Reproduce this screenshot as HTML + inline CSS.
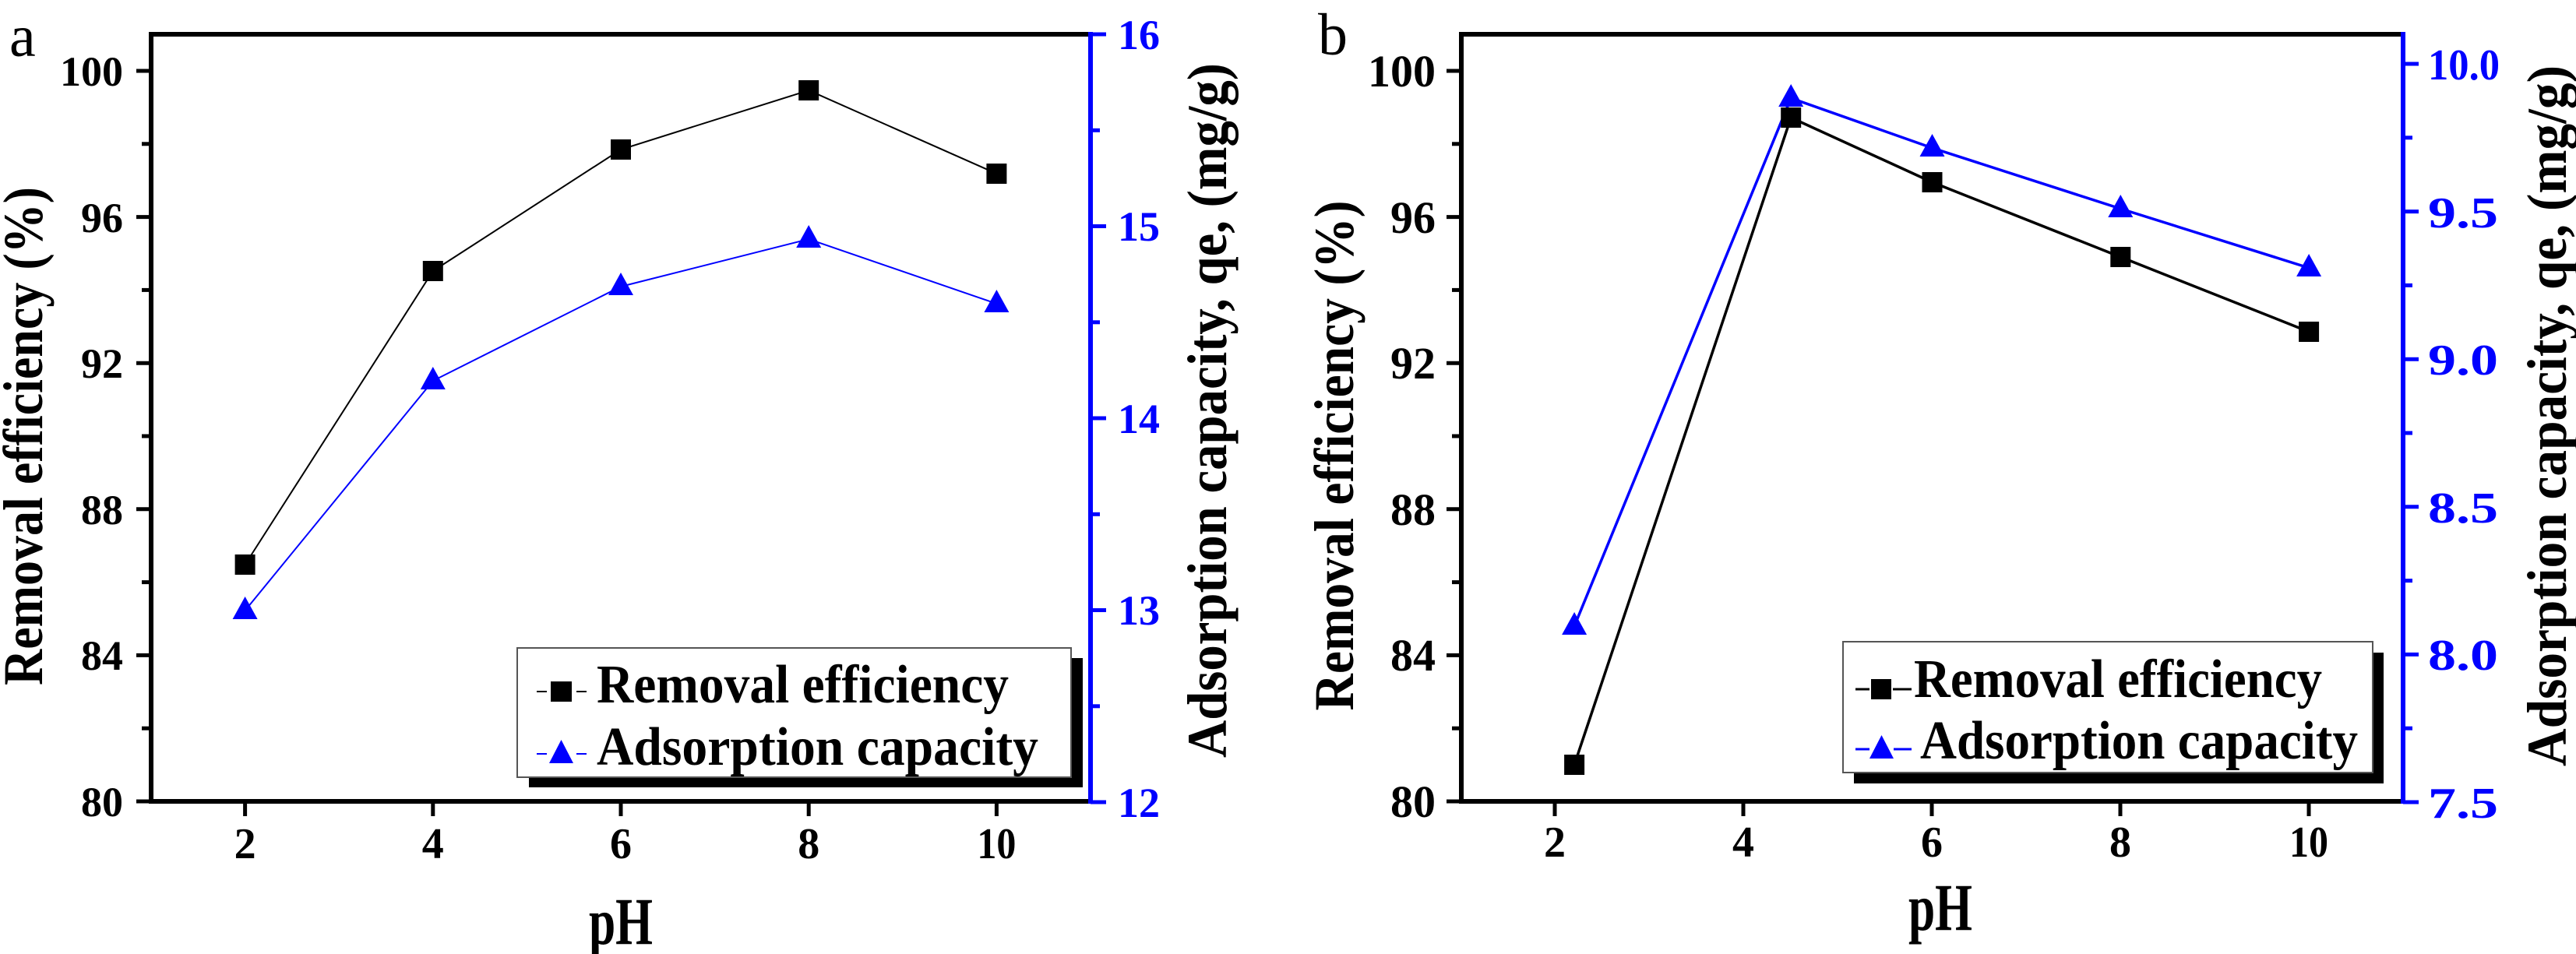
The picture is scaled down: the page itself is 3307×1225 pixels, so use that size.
<!DOCTYPE html>
<html><head><meta charset="utf-8"><style>
html,body{margin:0;padding:0;background:#fff;}
svg{display:block;}
text{font-family:"Liberation Serif",serif;font-weight:bold;}
</style></head><body>
<svg width="3307" height="1225" viewBox="0 0 3307 1225" xmlns="http://www.w3.org/2000/svg">
<rect width="3307" height="1225" fill="#fff"/>

<!-- ============ PANEL A ============ -->
<text x="12" y="72" font-size="76" style="font-weight:normal">a</text>
<polyline points="314.6,725 555.8,348 797,192 1038.2,116 1279.4,223" fill="none" stroke="#000" stroke-width="2"/>
<polyline points="314.6,784 555.8,489 797,368 1038.2,307 1279.4,390" fill="none" stroke="#0000ff" stroke-width="2"/>
<g fill="#000">
<rect x="301.6" y="712" width="26" height="26"/>
<rect x="542.8" y="335" width="26" height="26"/>
<rect x="784" y="179" width="26" height="26"/>
<rect x="1025.2" y="103" width="26" height="26"/>
<rect x="1266.4" y="210" width="26" height="26"/>
</g>
<g fill="#0000ff">
<path d="M298.6,795 L330.6,795 L314.6,766 Z"/>
<path d="M539.8,500 L571.8,500 L555.8,471 Z"/>
<path d="M781,379 L813,379 L797,350 Z"/>
<path d="M1022.2,318 L1054.2,318 L1038.2,289 Z"/>
<path d="M1263.4,401 L1295.4,401 L1279.4,372 Z"/>
</g>
<!-- legend a -->
<rect x="679" y="845" width="711" height="166" fill="#000"/>
<rect x="664" y="832" width="711" height="166" fill="#fff" stroke="#555" stroke-width="2"/>
<line x1="689" y1="888" x2="702" y2="888" stroke="#000" stroke-width="2"/>
<line x1="740" y1="888" x2="753" y2="888" stroke="#000" stroke-width="2"/>
<rect x="707" y="875" width="27" height="26" fill="#000"/>
<text x="766" y="902" font-size="70" textLength="529" lengthAdjust="spacingAndGlyphs">Removal efficiency</text>
<line x1="689" y1="968" x2="702" y2="968" stroke="#0000ff" stroke-width="2"/>
<line x1="740" y1="968" x2="753" y2="968" stroke="#0000ff" stroke-width="2"/>
<path d="M705,980 L736,980 L720.5,950 Z" fill="#0000ff"/>
<text x="766" y="982" font-size="70" textLength="567" lengthAdjust="spacingAndGlyphs">Adsorption capacity</text>
<!-- frame -->
<rect x="194" y="44" width="1206" height="985" fill="none" stroke="#000" stroke-width="6"/>
<line x1="1400" y1="41" x2="1400" y2="1032" stroke="#0000ff" stroke-width="6"/>
<g stroke="#000" stroke-width="5">
<line x1="175" y1="1029" x2="194" y2="1029"/><line x1="182" y1="935.2" x2="194" y2="935.2"/>
<line x1="175" y1="841.4" x2="194" y2="841.4"/><line x1="182" y1="747.6" x2="194" y2="747.6"/>
<line x1="175" y1="653.8" x2="194" y2="653.8"/><line x1="182" y1="560" x2="194" y2="560"/>
<line x1="175" y1="466.2" x2="194" y2="466.2"/><line x1="182" y1="372.4" x2="194" y2="372.4"/>
<line x1="175" y1="278.6" x2="194" y2="278.6"/><line x1="182" y1="184.8" x2="194" y2="184.8"/>
<line x1="175" y1="91" x2="194" y2="91"/>
</g>
<g font-size="54" text-anchor="end" style="font-family:'Liberation Sans',sans-serif">
<text x="158" y="1048">80</text><text x="158" y="860">84</text><text x="158" y="673">88</text>
<text x="158" y="485">92</text><text x="158" y="298">96</text><text x="158" y="110">100</text>
</g>
<g stroke="#0000ff" stroke-width="5">
<line x1="1400" y1="1030" x2="1420" y2="1030"/><line x1="1400" y1="906.8" x2="1412" y2="906.8"/>
<line x1="1400" y1="783.5" x2="1420" y2="783.5"/><line x1="1400" y1="660.3" x2="1412" y2="660.3"/>
<line x1="1400" y1="537" x2="1420" y2="537"/><line x1="1400" y1="413.8" x2="1412" y2="413.8"/>
<line x1="1400" y1="290.5" x2="1420" y2="290.5"/><line x1="1400" y1="167.3" x2="1412" y2="167.3"/>
<line x1="1400" y1="44" x2="1420" y2="44"/>
</g>
<g font-size="54" fill="#0000ff" style="font-family:'Liberation Sans',sans-serif">
<text x="1435" y="1049">12</text><text x="1435" y="802">13</text><text x="1435" y="556">14</text>
<text x="1435" y="309">15</text><text x="1435" y="63">16</text>
</g>
<g stroke="#000" stroke-width="5">
<line x1="314.6" y1="1029" x2="314.6" y2="1048"/><line x1="555.8" y1="1029" x2="555.8" y2="1048"/>
<line x1="797" y1="1029" x2="797" y2="1048"/><line x1="1038.2" y1="1029" x2="1038.2" y2="1048"/>
<line x1="1279.4" y1="1029" x2="1279.4" y2="1048"/>
</g>
<g font-size="56" text-anchor="middle">
<text x="314.6" y="1102">2</text><text x="555.8" y="1102">4</text><text x="797" y="1102">6</text>
<text x="1038.2" y="1102">8</text><text x="1279.4" y="1102" textLength="50" lengthAdjust="spacingAndGlyphs">10</text>
</g>
<text x="797" y="1212" font-size="86" text-anchor="middle" textLength="82" lengthAdjust="spacingAndGlyphs">pH</text>
<text transform="translate(54,560) rotate(-90)" font-size="72" text-anchor="middle" textLength="640" lengthAdjust="spacingAndGlyphs">Removal efficiency (%)</text>
<text transform="translate(1574,527) rotate(-90)" font-size="72" text-anchor="middle" textLength="892" lengthAdjust="spacingAndGlyphs">Adsorption capacity, qe, (mg/g)</text>

<!-- ============ PANEL B ============ -->
<text x="1692" y="70" font-size="76" style="font-weight:normal">b</text>
<polyline points="2021.1,982 2299.2,151 2480.5,234 2722.3,330 2964.1,426" fill="none" stroke="#000" stroke-width="3.5"/>
<polyline points="2021.1,804 2299.2,126 2480.5,190 2722.3,268 2964.1,344" fill="none" stroke="#0000ff" stroke-width="3.5"/>
<g fill="#0000ff">
<path d="M2005.1,815 L2037.1,815 L2021.1,786 Z"/>
<path d="M2283.2,137 L2315.2,137 L2299.2,108 Z"/>
<path d="M2464.5,201 L2496.5,201 L2480.5,172 Z"/>
<path d="M2706.3,279 L2738.3,279 L2722.3,250 Z"/>
<path d="M2948.1,355 L2980.1,355 L2964.1,326 Z"/>
</g>
<g fill="#000">
<rect x="2008.1" y="969" width="26" height="26"/>
<rect x="2286.2" y="138" width="26" height="26"/>
<rect x="2467.5" y="221" width="26" height="26"/>
<rect x="2709.3" y="317" width="26" height="26"/>
<rect x="2951.1" y="413" width="26" height="26"/>
</g>
<!-- legend b -->
<rect x="2380" y="838" width="680" height="168" fill="#000"/>
<rect x="2366" y="824" width="680" height="168" fill="#fff" stroke="#555" stroke-width="2"/>
<line x1="2382" y1="885" x2="2400" y2="885" stroke="#000" stroke-width="3"/>
<line x1="2430" y1="885" x2="2454" y2="885" stroke="#000" stroke-width="3"/>
<rect x="2402" y="872" width="26" height="26" fill="#000"/>
<text x="2457" y="895" font-size="70" textLength="524" lengthAdjust="spacingAndGlyphs">Removal efficiency</text>
<line x1="2382" y1="962" x2="2400" y2="962" stroke="#0000ff" stroke-width="3"/>
<line x1="2431" y1="962" x2="2454" y2="962" stroke="#0000ff" stroke-width="3"/>
<path d="M2400,974 L2431,974 L2415.5,944 Z" fill="#0000ff"/>
<text x="2465" y="974" font-size="70" textLength="562" lengthAdjust="spacingAndGlyphs">Adsorption capacity</text>
<!-- frame -->
<rect x="1876" y="44" width="1209" height="985" fill="none" stroke="#000" stroke-width="6"/>
<line x1="3085" y1="41" x2="3085" y2="1032" stroke="#0000ff" stroke-width="6"/>
<g stroke="#000" stroke-width="5">
<line x1="1857" y1="1029" x2="1876" y2="1029"/><line x1="1864" y1="935.2" x2="1876" y2="935.2"/>
<line x1="1857" y1="841.4" x2="1876" y2="841.4"/><line x1="1864" y1="747.6" x2="1876" y2="747.6"/>
<line x1="1857" y1="653.8" x2="1876" y2="653.8"/><line x1="1864" y1="560" x2="1876" y2="560"/>
<line x1="1857" y1="466.2" x2="1876" y2="466.2"/><line x1="1864" y1="372.4" x2="1876" y2="372.4"/>
<line x1="1857" y1="278.6" x2="1876" y2="278.6"/><line x1="1864" y1="184.8" x2="1876" y2="184.8"/>
<line x1="1857" y1="91" x2="1876" y2="91"/>
</g>
<g font-size="58" text-anchor="end">
<text x="1843" y="1049">80</text><text x="1843" y="861">84</text><text x="1843" y="674">88</text>
<text x="1843" y="486">92</text><text x="1843" y="299">96</text><text x="1843" y="111">100</text>
</g>
<g stroke="#0000ff" stroke-width="5">
<line x1="3085" y1="1030" x2="3105" y2="1030"/><line x1="3085" y1="935.2" x2="3097" y2="935.2"/>
<line x1="3085" y1="840.4" x2="3105" y2="840.4"/><line x1="3085" y1="745.6" x2="3097" y2="745.6"/>
<line x1="3085" y1="650.8" x2="3105" y2="650.8"/><line x1="3085" y1="556" x2="3097" y2="556"/>
<line x1="3085" y1="461.2" x2="3105" y2="461.2"/><line x1="3085" y1="366.4" x2="3097" y2="366.4"/>
<line x1="3085" y1="271.6" x2="3105" y2="271.6"/><line x1="3085" y1="176.8" x2="3097" y2="176.8"/>
<line x1="3085" y1="82" x2="3105" y2="82"/>
</g>
<g font-size="56" fill="#0000ff">
<text x="3117" y="1050" textLength="90" lengthAdjust="spacingAndGlyphs">7.5</text>
<text x="3117" y="860" textLength="90" lengthAdjust="spacingAndGlyphs">8.0</text>
<text x="3117" y="671" textLength="90" lengthAdjust="spacingAndGlyphs">8.5</text>
<text x="3117" y="481" textLength="90" lengthAdjust="spacingAndGlyphs">9.0</text>
<text x="3117" y="292" textLength="90" lengthAdjust="spacingAndGlyphs">9.5</text>
<text x="3117" y="102" textLength="92" lengthAdjust="spacingAndGlyphs">10.0</text>
</g>
<g stroke="#000" stroke-width="5">
<line x1="1996" y1="1029" x2="1996" y2="1048"/><line x1="2238" y1="1029" x2="2238" y2="1048"/>
<line x1="2480" y1="1029" x2="2480" y2="1048"/><line x1="2722" y1="1029" x2="2722" y2="1048"/>
<line x1="2964" y1="1029" x2="2964" y2="1048"/>
</g>
<g font-size="56" text-anchor="middle">
<text x="1996" y="1100">2</text><text x="2238" y="1100">4</text><text x="2480" y="1100">6</text>
<text x="2722" y="1100">8</text><text x="2964" y="1100" textLength="50" lengthAdjust="spacingAndGlyphs">10</text>
</g>
<text x="2491" y="1194" font-size="86" text-anchor="middle" textLength="82" lengthAdjust="spacingAndGlyphs">pH</text>
<text transform="translate(1737,585) rotate(-90)" font-size="72" text-anchor="middle" textLength="655" lengthAdjust="spacingAndGlyphs">Removal efficiency (%)</text>
<text transform="translate(3294,534) rotate(-90)" font-size="72" text-anchor="middle" textLength="900" lengthAdjust="spacingAndGlyphs">Adsorption capacity, qe, (mg/g)</text>
</svg>
</body></html>
